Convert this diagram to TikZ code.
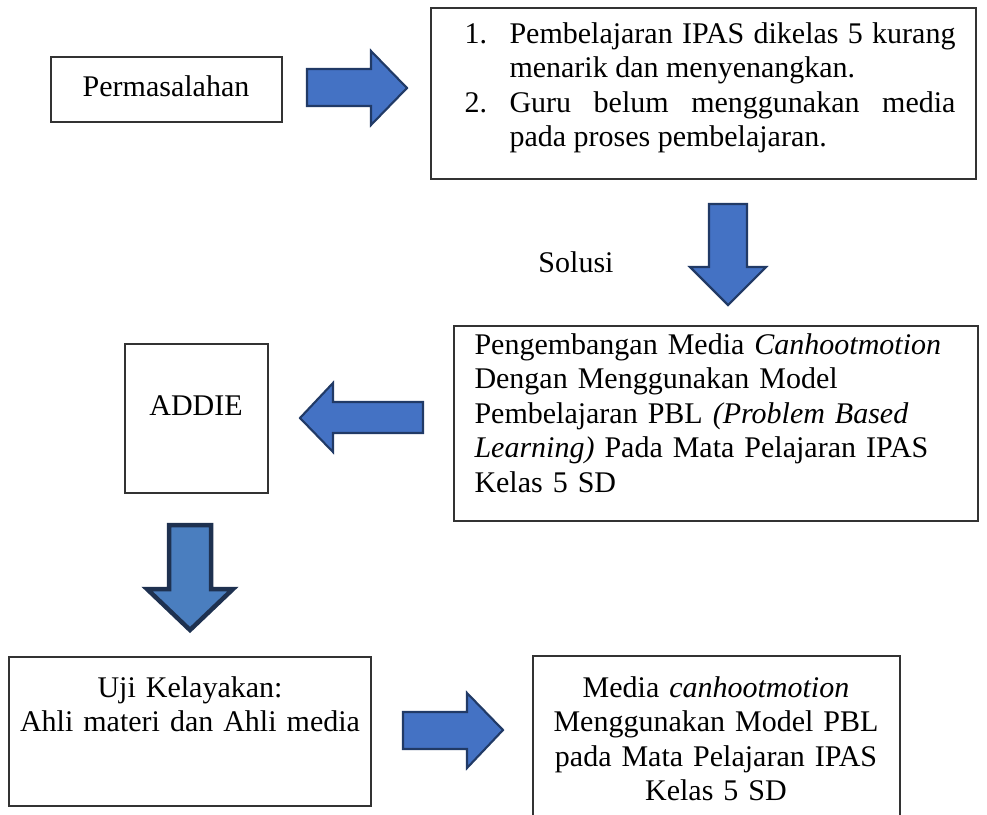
\documentclass[tikz,border=0pt]{standalone}
\usepackage{fontspec}
\setmainfont{Liberation Serif}
\usetikzlibrary{fit}
\definecolor{arrfill}{HTML}{4472C4}
\definecolor{arrline}{HTML}{213A66}
\definecolor{arrfillb}{HTML}{4A7EBF}
\definecolor{arrlineb}{HTML}{1E3150}
\definecolor{boxline}{HTML}{333333}
\tikzset{
  box/.style={draw=boxline, line width=0.55pt, inner sep=0pt, fill=none},
  blockarrow/.style={fill=arrfill, draw=arrline, line width=0.85pt, line join=miter},
  blockarrowb/.style={fill=arrfillb, draw=arrlineb, line width=1.8pt, line join=miter},
  txt/.style={inner sep=0pt, font=\fontsize{12}{13.8}\selectfont},
}
\begin{document}
\begin{tikzpicture}[x=0.4pt, y=-0.4pt]
\useasboundingbox (0,0) rectangle (987,814);
\clip (0,0) rectangle (987,814);

% boxes
\node[box, fit={(51,57) (282,122)}] (b1) {};
\node[box, fit={(431,8) (976,179)}] (b2) {};
\node[box, fit={(454,326) (978,521)}] (b3) {};
\node[box, fit={(125,344) (268,493)}] (b4) {};
\node[box, fit={(9,657) (371,806)}] (b5) {};
\node[box, fit={(533,656) (900,840)}] (b6) {};

% texts
\node[txt, anchor=base] (t1) at (166,96) {Permasalahan};
\node[txt, anchor=base west, text width=196.4pt, align=justify] (t2) at (464,43)
{\parindent=0pt
\hangindent=18pt\hangafter=1\noindent\makebox[18pt][l]{1.}Pembelajaran IPAS dikelas 5 kurang\linebreak menarik dan menyenangkan.\par
\hangindent=18pt\hangafter=1\noindent\makebox[18pt][l]{2.}Guru belum menggunakan media\linebreak pada proses pembelajaran.\par};
\node[txt, anchor=base] (sol) at (576,272) {Solusi};
\node[txt, anchor=base west, text width=205pt, align=left] (t3) at (474,354)
{Pengembangan Media \textit{Canhootmotion}\\
Dengan Menggunakan Model\\
Pembelajaran PBL \textit{(Problem Based}\\
\textit{Learning)} Pada Mata Pelajaran IPAS\\
Kelas 5 SD};
\node[txt, anchor=base] (t4) at (196,415) {ADDIE};
\node[txt, anchor=base, text width=140pt, align=center] (t5) at (190,697)
{Uji Kelayakan:\\ Ahli materi dan Ahli media};
\node[txt, anchor=base, text width=145pt, align=center] (t6) at (716,697)
{Media \textit{canhootmotion}\\ Menggunakan Model PBL\\ pada Mata Pelajaran IPAS\\ Kelas 5 SD};

% block arrows
\draw[blockarrow] (307,69) -- (371,69) -- (371,51) -- (407,88) -- (371,125) -- (371,106) -- (307,106) -- cycle;
\draw[blockarrow] (709,204) -- (747,204) -- (747,267) -- (766,267) -- (728,305) -- (690,267) -- (709,267) -- cycle;
\draw[blockarrow] (423,402) -- (333,402) -- (333,383) -- (300,418) -- (333,452) -- (333,433) -- (423,433) -- cycle;
\draw[blockarrowb] (169,525) -- (211,525) -- (211,589) -- (233,589) -- (190,630) -- (147,589) -- (169,589) -- cycle;
\draw[blockarrow] (403,712) -- (467,712) -- (467,693) -- (503,730) -- (467,768) -- (467,749) -- (403,749) -- cycle;
\end{tikzpicture}
\end{document}
